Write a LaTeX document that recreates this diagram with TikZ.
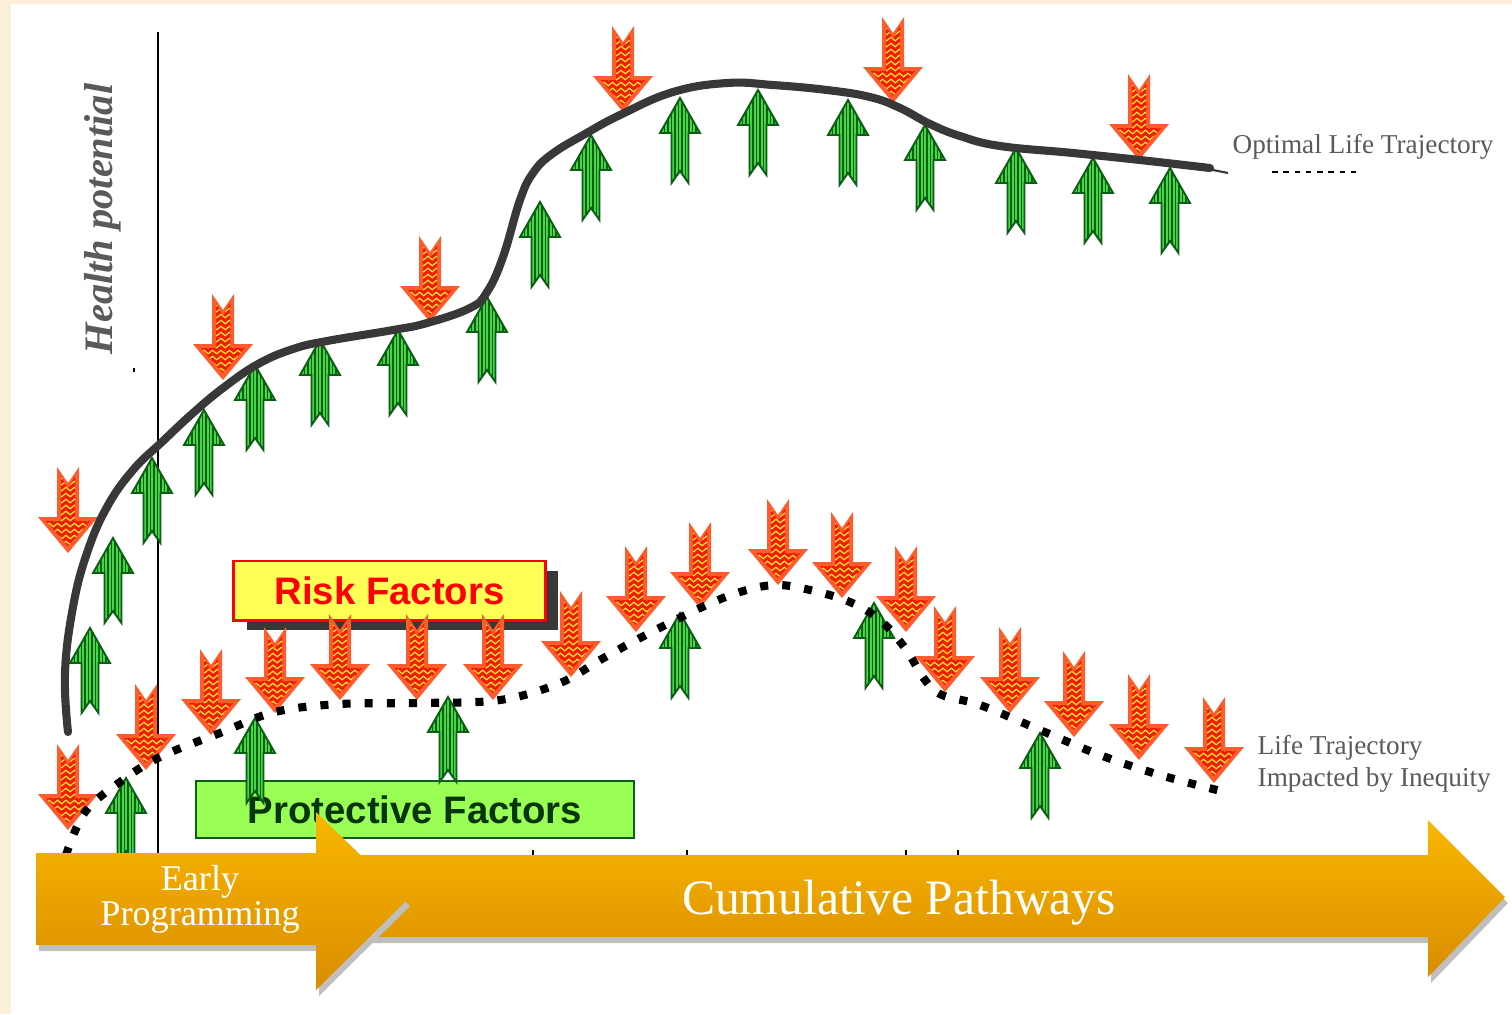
\documentclass[tikz,border=0pt]{standalone}
\usepackage{fontspec}
\setmainfont{Liberation Serif}
\setsansfont{Liberation Sans}
\usetikzlibrary{decorations.pathmorphing,shadows}

\definecolor{cream}{HTML}{FDF0DA}
\definecolor{riskorange}{HTML}{FF5C2E}
\definecolor{riskred}{HTML}{F01C00}
\definecolor{riskyellow}{HTML}{FFE433}
\definecolor{protgreen}{HTML}{44D844}
\definecolor{protdark}{HTML}{0B5E14}
\definecolor{boxyellow}{HTML}{FFFF55}
\definecolor{boxgreen}{HTML}{99FF55}
\definecolor{pathtop}{HTML}{F9B700}
\definecolor{pathbot}{HTML}{D98C00}
\definecolor{curvegray}{HTML}{383838}
\definecolor{textgray}{HTML}{5A5A5A}

\tikzset{
    % red risk arrow, tip at the origin
    risk/.pic={
        \fill [riskorange] (0,0) -- (-30,-36) -- (-11,-36) -- (-11,-86)
            -- (0,-70) -- (11,-86) -- (11,-36) -- (30,-36) -- cycle;
        \begin{scope}
            \clip (0,-7) -- (-22,-32) -- (-7,-32) -- (-7,-77) -- (0,-64)
                -- (7,-77) -- (7,-32) -- (22,-32) -- cycle;
            \fill [riskred] (-30,-90) rectangle (30,0);
            \foreach \k in {-82,-76,...,-4}
                \draw [riskyellow,line width=0.35pt,decorate,
                    decoration={snake,amplitude=0.5pt,segment length=2.4pt}]
                    (-30,\k) -- (30,\k);
        \end{scope}
    },
    % green protective arrow, tip at the origin
    prot/.pic={
        \begin{scope}
            \clip (0,0) -- (-20,35) -- (-8.5,35) -- (-8.5,85) -- (0,73)
                -- (8.5,85) -- (8.5,35) -- (20,35) -- cycle;
            \fill [protgreen] (-21,-1) rectangle (21,86);
            \foreach \k in {-19,-15.5,...,19}
                \draw [protdark,line width=0.3pt] (\k,-1) -- (\k,86);
        \end{scope}
        \draw [protdark,line width=0.55pt] (0,0) -- (-20,35) -- (-8.5,35)
            -- (-8.5,85) -- (0,73) -- (8.5,85) -- (8.5,35) -- (20,35) -- cycle;
    },
    factorbox/.style={rectangle,font=\sffamily\bfseries\fontsize{10.9}{13}\selectfont},
    sidelabel/.style={text=textgray,font=\fontsize{7.75}{9.1}\selectfont,inner sep=0pt}
}

\begin{document}
\begin{tikzpicture}[x=0.01cm,y=-0.01cm]
    \useasboundingbox (0,0) rectangle (1512,1014);
    % The page
    \fill [cream] (0,0) rectangle (1512,1014);
    \fill [white] (11,4) rectangle (1512,1014);
    % The axis
    \draw [line width=0.85pt] (158,32) -- (158,858);
    \draw [line width=0.4pt] (134,368) -- (134,372);
    \node [rotate=90,text=textgray,font=\bfseries\itshape\fontsize{11.5}{13}\selectfont]
        (health) at (103,219) {Health potential};
    % The factor boxes
    \node [factorbox,draw=red,line width=0.85pt,fill=boxyellow,text=red,
        minimum width=3.11cm,minimum height=0.59cm,
        drop shadow={shadow xshift=0.13cm,shadow yshift=-0.1cm,fill=curvegray,opacity=1}]
        (riskbox) at (389.5,590.5) {Risk Factors};
    \node [factorbox,draw=protdark,line width=0.7pt,fill=boxgreen,text=protdark!55!black,
        minimum width=4.38cm,minimum height=0.57cm]
        (protbox) at (415,809.5) {Protective Factors};
    % Risk factors
    \foreach \x/\y in {68/553,223/380,430/322,623/112,893/103,1139/160,
            68/830,146/770,211/735,275/713,340/700,417/700,493/700,571/677,
            636/632,700/608,778/585,842/598,906/632,945/692,1010/713,
            1074/737,1139/760,1214/783}
        \pic at (\x,\y) {risk};
    % Protective factors
    \foreach \x/\y in {90/628,113/538,152/458,204/410,255/365,320/340,398/330,
            487/297,540/202,591/135,680/98,758/90,848/100,925/125,1016/148,
            1093/158,1170/168,
            126/778,255/718,448/697,680/613,874/603,1040/733}
        \pic at (\x,\y) {prot};
    % The optimal trajectory
    \draw [curvegray,line width=2.3pt,line cap=round] plot [smooth,tension=0.7] coordinates {
        (68,732) (65,673) (73,607) (87,553) (107,507) (133,470) (163,441)
        (193,413) (223,388) (258,364) (293,349) (327,341) (393,330) (427,323)
        (470,308) (487,292) (503,257) (520,200) (533,173) (552,154) (585,134)
        (620,115) (673,92) (727,83) (773,85) (827,90) (870,97) (900,108)
        (930,124) (960,136) (1000,146) (1073,153) (1140,160) (1210,168)};
    \draw [curvegray,line width=0.6pt] (1208,169) -- (1228,173);
    \draw [line width=0.5pt,dash pattern=on 1.6pt off 1.6pt] (1272,172) -- (1358,172);
    % The trajectory impacted by inequity
    \draw [black,line width=2.3pt,dash pattern=on 2.3pt off 4pt] plot [smooth,tension=0.6] coordinates {
        (66,855) (85,812) (120,782) (160,757) (220,733) (275,712) (340,704)
        (420,703) (500,700) (560,683) (600,660) (640,638) (700,608) (740,592)
        (775,585) (810,590) (850,602) (880,620) (905,648) (925,680) (942,695)
        (980,705) (1040,730) (1100,755) (1160,775) (1225,792)};
    % Ticks on the time line
    \foreach \x in {533,687,906,958}
        \draw [line width=0.35pt] (\x,850) -- (\x,859);
    % Cumulative pathways
    \fill [black!25] (303,861) -- (1431,861) -- (1431,826) -- (1508,903)
        -- (1431,983) -- (1431,943) -- (303,943) -- cycle;
    \shade [top color=pathtop,bottom color=pathbot] (300,855) -- (1428,855)
        -- (1428,820) -- (1505,897) -- (1428,977) -- (1428,937) -- (300,937) -- cycle;
    \node [text=white,font=\fontsize{14.1}{16}\selectfont] (cumul) at (899,903)
        {Cumulative Pathways};
    % Early programming
    \fill [black!25] (39,859) -- (319,859) -- (319,818) -- (410,906)
        -- (319,996) -- (319,951) -- (39,951) -- cycle;
    \shade [top color=pathtop,bottom color=pathbot] (36,853) -- (316,853)
        -- (316,812) -- (407,900) -- (316,990) -- (316,945) -- (36,945) -- cycle;
    \node [text=white,align=center,font=\fontsize{10.3}{8.9}\selectfont] (early)
        at (200,899) {Early\\Programming};
    % Trajectory labels
    \node [sidelabel] (optimal) at (1363,147) {Optimal Life Trajectory};
    \node [sidelabel,align=left,anchor=west] (inequity) at (1257,764)
        {Life Trajectory\\Impacted by Inequity};
\end{tikzpicture}
\end{document}
